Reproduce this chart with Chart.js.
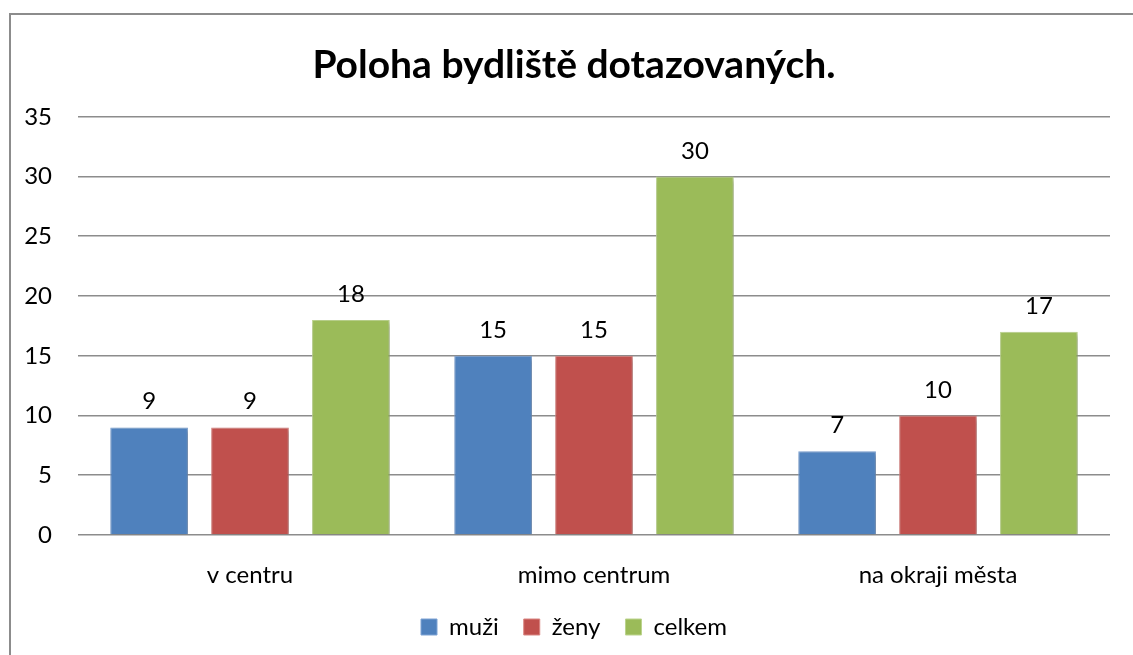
<!DOCTYPE html>
<html>
<head>
<meta charset="utf-8">
<script src="https://cdn.jsdelivr.net/npm/chart.js@4.4.1/dist/chart.umd.min.js"></script>
<style>
  html, body { margin: 0; padding: 0; background: #fff; overflow: hidden; }
  #frame { position: absolute; left: 9px; top: 13px; width: 1200px; height: 700px; border: 2px solid #8c8c8c; box-sizing: border-box; }
  #chart { position: absolute; left: 0; top: 0; }
</style>
</head>
<body>
<div id="frame"></div>
<canvas id="chart" width="1133" height="655"></canvas>
<script>
// dati
const CATEGORIE = ['v centru', 'mimo centrum', 'na okraji města'];
const MUZI      = [9, 15, 7];
const ZENY      = [9, 15, 10];
const CELKEM    = [18, 30, 17];
const Y_TICKS   = [0, 5, 10, 15, 20, 25, 30, 35];

const FONT = "Lato, 'Open Sans', sans-serif";

// ombra leggera sotto le barre
const shadowPlugin = {
  id: 'barShadow',
  beforeDatasetsDraw(chart) {
    const ctx = chart.ctx;
    ctx.save();
    ctx.shadowColor = 'rgba(0,0,0,0.28)';
    ctx.shadowBlur = 5;
    ctx.shadowOffsetX = 2;
    ctx.shadowOffsetY = 2;
  },
  afterDatasetsDraw(chart) {
    chart.ctx.restore();
  }
};

// etichette valore sopra le barre
const labelPlugin = {
  id: 'valueLabels',
  afterDatasetsDraw(chart) {
    const ctx = chart.ctx;
    ctx.save();
    ctx.font = '24px ' + FONT;
    ctx.fillStyle = '#000';
    ctx.textAlign = 'center';
    ctx.textBaseline = 'alphabetic';
    chart.data.datasets.forEach((ds, i) => {
      chart.getDatasetMeta(i).data.forEach((bar, j) => {
        ctx.fillText(String(ds.data[j]), bar.x, bar.y - 18);
      });
    });
    ctx.restore();
  }
};

// l'asse y è stretto: allarga l'area di clip delle etichette fino al bordo
const yClipPlugin = {
  id: 'yClip',
  afterLayout(chart) {
    chart.scales.y.left = 0;
  }
};

new Chart(document.getElementById('chart'), {
  type: 'bar',
  data: {
    labels: CATEGORIE,
    datasets: [
      { label: 'muži',   data: MUZI,   backgroundColor: '#4F81BD', borderColor: '#7ea3d4', borderWidth: 1 },
      { label: 'ženy',   data: ZENY,   backgroundColor: '#C0504D', borderColor: '#d98582', borderWidth: 1 },
      { label: 'celkem', data: CELKEM, backgroundColor: '#9BBB59', borderColor: '#bcd48e', borderWidth: 1 }
    ]
  },
  options: {
    responsive: false,
    animation: false,
    devicePixelRatio: 1,
    layout: { padding: { left: 38, right: 23, top: 0, bottom: 6 } },
    datasets: { bar: { categoryPercentage: 0.88, barPercentage: 0.77 } },
    scales: {
      x: {
        afterFit: s => { s.height = 55; },
        grid: { display: false, drawTicks: false },
        border: { display: false },
        ticks: { color: '#000', font: { family: FONT, size: 24 }, padding: 26 }
      },
      y: {
        min: 0, max: 35,
        afterBuildTicks: s => { s.ticks = Y_TICKS.map(v => ({ value: v })); },
        afterFit: s => { s.width = 40; },
        grid: { color: '#8c8c8c', lineWidth: 1.6, drawTicks: false },
        border: { display: false },
        ticks: { color: '#000', font: { family: FONT, size: 24 }, padding: 26 }
      }
    },
    plugins: {
      title: {
        display: true,
        text: 'Poloha bydliště dotazovaných.',
        color: '#000',
        font: { family: FONT, size: 39, weight: 'bold' },
        padding: { top: 42, bottom: 28 }
      },
      legend: {
        position: 'bottom',
        labels: {
          color: '#000',
          font: { family: FONT, size: 24 },
          boxWidth: 16, boxHeight: 16,
          padding: 25
        }
      },
      tooltip: { enabled: false }
    }
  },
  plugins: [shadowPlugin, labelPlugin, yClipPlugin]
});
</script>
</body>
</html>
